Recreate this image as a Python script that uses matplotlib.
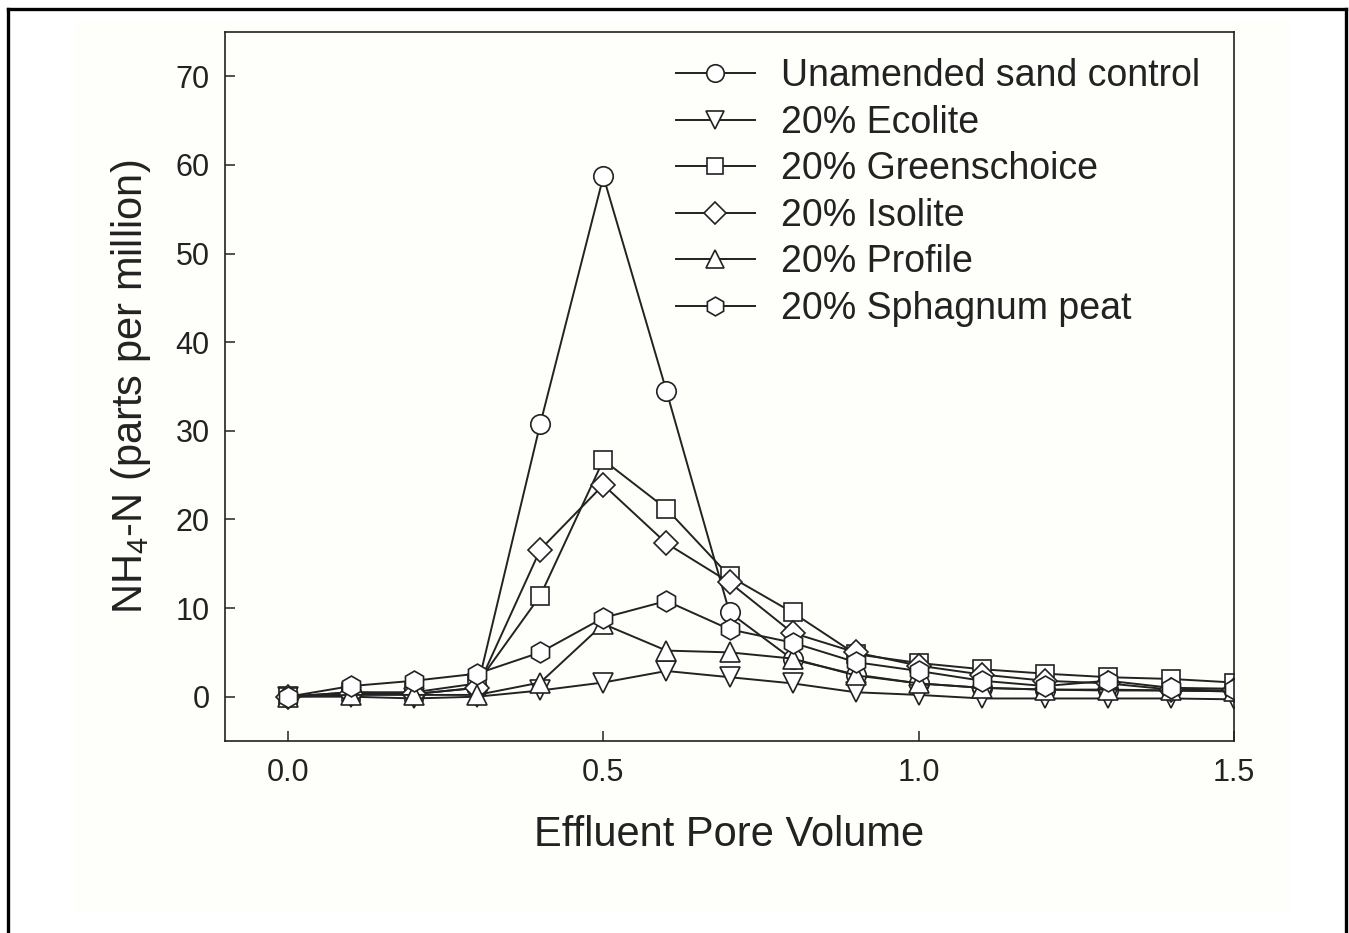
import matplotlib
matplotlib.use("Agg")
import matplotlib.pyplot as plt
from matplotlib.patches import Rectangle
from matplotlib.lines import Line2D

plt.rcParams['font.family'] = ['Liberation Sans', 'DejaVu Sans']
plt.rcParams['mathtext.fontset'] = 'custom'
plt.rcParams['mathtext.rm'] = 'Liberation Sans'

# pore volumes
volumen = [0.0, 0.1, 0.2, 0.3, 0.4, 0.5, 0.6, 0.7, 0.8, 0.9, 1.0, 1.1, 1.2, 1.3, 1.4, 1.5]

# NH4-N (ppm) por tratamiento
control = [0.0, 0.5, 0.3, 1.0, 30.8, 58.7, 34.5, 9.5, 4.2, 2.5, 1.5, 1.0, 0.8, 0.7, 0.7, 0.6]
ecolite = [0.0, 0.0, -0.2, 0.0, 0.7, 1.6, 2.9, 2.2, 1.5, 0.5, 0.2, -0.2, -0.2, -0.2, -0.2, -0.3]
greens = [0.0, 0.5, 0.5, 1.5, 11.4, 26.7, 21.2, 13.6, 9.5, 4.8, 3.8, 3.1, 2.6, 2.2, 2.0, 1.6]
isolite = [0.0, 0.3, 0.3, 1.0, 16.6, 23.9, 17.3, 12.9, 7.2, 5.0, 3.5, 2.5, 1.8, 1.5, 0.8, 0.7]
profile = [0.0, 0.2, 0.2, 0.2, 1.6, 8.2, 5.2, 5.0, 4.3, 2.4, 1.5, 1.0, 0.8, 0.8, 0.7, 0.6]
peat = [0.0, 1.2, 1.8, 2.6, 5.0, 8.9, 10.8, 7.6, 6.1, 3.9, 2.9, 1.8, 1.2, 1.8, 1.0, 0.9]

series = [
    (control, 'o', 14, 'Unamended sand control'),
    (ecolite, 'v', 14, '20% Ecolite'),
    (greens, 's', 13, '20% Greenschoice'),
    (isolite, 'D', 12, '20% Isolite'),
    (profile, '^', 14, '20% Profile'),
    (peat, 'h', 15, '20% Sphagnum peat'),
]

fondo = '#fefefb'
tinta = '#222222'
fig = plt.figure(figsize=(13.49, 9.33), dpi=100, facecolor='white')

# zona de papel apenas amarillenta
fig.patches.append(Rectangle((75 / 1349, 20 / 933), 1215 / 1349, 893 / 933,
                             transform=fig.transFigure, facecolor=fondo,
                             edgecolor='none', zorder=-5))

ax = fig.add_axes([225 / 1349, 1 - 741 / 933, 1009 / 1349, 709 / 933])
ax.set_facecolor(fondo)

for datos, marca, tam, nombre in series:
    ax.plot(volumen, datos, color=tinta, lw=1.4, marker=marca, ms=tam,
            mfc='white', mec=tinta, mew=1.2, label=nombre)

ax.set_xlim(-0.1, 1.5)
ax.set_ylim(-5, 75)
ax.set_xticks([0.0, 0.5, 1.0, 1.5])
ax.set_xticklabels(['0.0', '0.5', '1.0', '1.5'])
ax.set_yticks(range(0, 80, 10))
ax.tick_params(direction='in', length=7, width=1.1, labelsize=22,
               colors=tinta, top=False, right=False)
ax.tick_params(axis='y', pad=11)
ax.tick_params(axis='x', pad=12)
for s in ax.spines.values():
    s.set_linewidth(1.2)
    s.set_color(tinta)

ax.set_xlabel('Effluent Pore Volume', fontsize=30, color=tinta, labelpad=20)
ax.set_ylabel(r'NH$_\mathregular{4}$-N (parts per million)', fontsize=30,
              color=tinta, labelpad=16)

leg = ax.legend(loc='upper left', bbox_to_anchor=(0.421, 1.0), frameon=False,
                fontsize=27, markerscale=0.9, handlelength=2.1,
                handletextpad=0.7, labelspacing=0.28, borderaxespad=0.3)
for t in leg.get_texts():
    t.set_color(tinta)

# marco negro (arriba, izquierda, derecha)
for xs, ys in [((7.5, 7.5), (933, 9)), ((7.5, 1345.5), (9, 9)), ((1345.5, 1345.5), (9, 933))]:
    fig.add_artist(Line2D([x / 1349 for x in xs], [1 - y / 933 for y in ys],
                          transform=fig.transFigure, color='black', lw=2.4))

fig.savefig('out.png', dpi=100, facecolor='white')
